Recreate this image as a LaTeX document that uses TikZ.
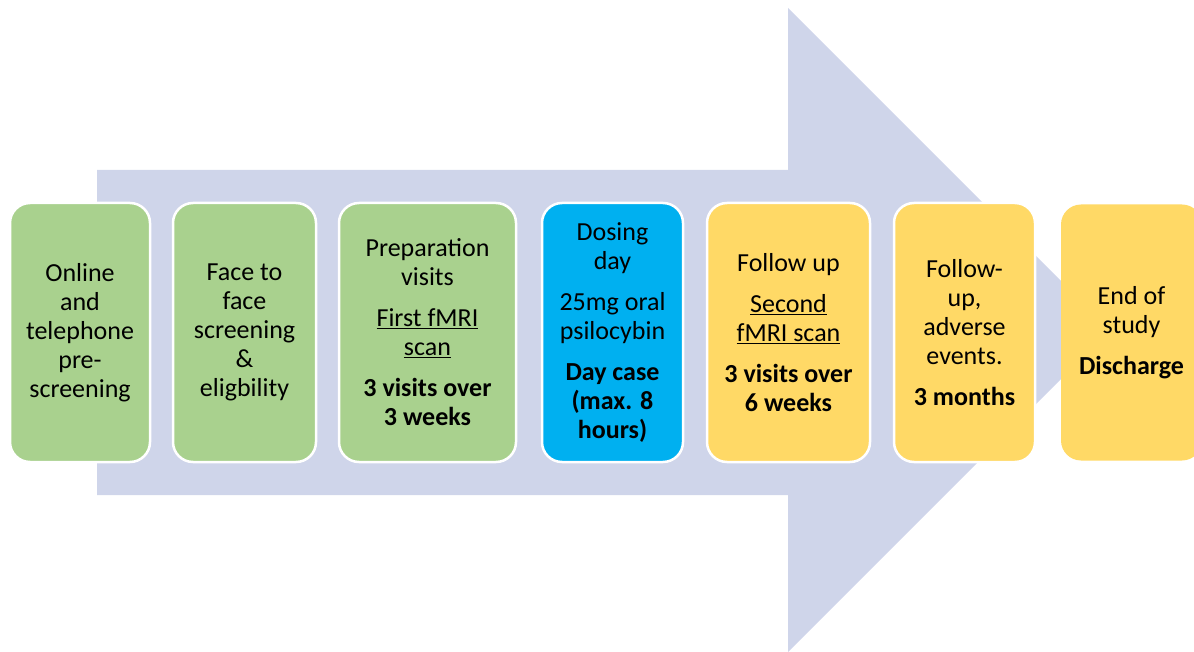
\documentclass[tikz,border=0pt]{standalone}
\usepackage{fontspec}
\setmainfont{Carlito}
\definecolor{arrowcol}{HTML}{CFD5EA}
\definecolor{boxgreen}{HTML}{A9D18E}
\definecolor{boxblue}{HTML}{00B0F0}
\definecolor{boxyellow}{HTML}{FFD966}
\tikzset{
  stagebox/.style={draw=white, line width=2.5pt, rounded corners=20pt, inner sep=0pt,
    minimum height=259pt, align=center, text=black,
    font=\fontsize{26}{29}\selectfont},
}
\begin{document}
\begin{tikzpicture}[x=1pt,y=-1pt]
\useasboundingbox (0,0) rectangle (1194,652);
\fill[arrowcol] (97,170) -- (788,170) -- (788,8) -- (1110,330) -- (788,652) -- (788,495) -- (97,495) -- cycle;
\node[stagebox, fill=boxgreen, minimum width=140pt] (b1) at (80,332.5)
  {Online\\and\\telephone\\pre-\\screening};
\node[stagebox, fill=boxgreen, minimum width=143pt] (b2) at (244.5,332.5)
  {Face to\\face\\screening\\\&\\eligbility};
\node[stagebox, fill=boxgreen, minimum width=177pt] (b3) at (427.5,332.5)
  {Preparation\\visits\\[12pt]\underline{First fMRI}\\\underline{scan}\\[12pt]\textbf{3 visits over}\\\textbf{3 weeks}};
\node[stagebox, fill=boxblue, minimum width=141pt] (b4) at (612.5,332.5)
  {Dosing\\day\\[12pt]25mg oral\\psilocybin\\[12pt]\textbf{Day case}\\\textbf{(max. 8}\\\textbf{hours)}};
\node[stagebox, fill=boxyellow, minimum width=163pt] (b5) at (788.5,332.5)
  {Follow up\\[12pt]\underline{Second}\\\underline{fMRI scan}\\[12pt]\textbf{3 visits over}\\\textbf{6 weeks}};
\node[stagebox, fill=boxyellow, minimum width=141pt] (b6) at (964.5,332.5)
  {Follow-\\up,\\adverse\\events.\\[12pt]\textbf{3 months}};
\node[stagebox, fill=boxyellow, draw=none, minimum width=141pt, minimum height=256pt] (b7) at (1131.5,332.5)
  {End of\\study\\[12pt]\textbf{Discharge}};
\end{tikzpicture}
\end{document}
